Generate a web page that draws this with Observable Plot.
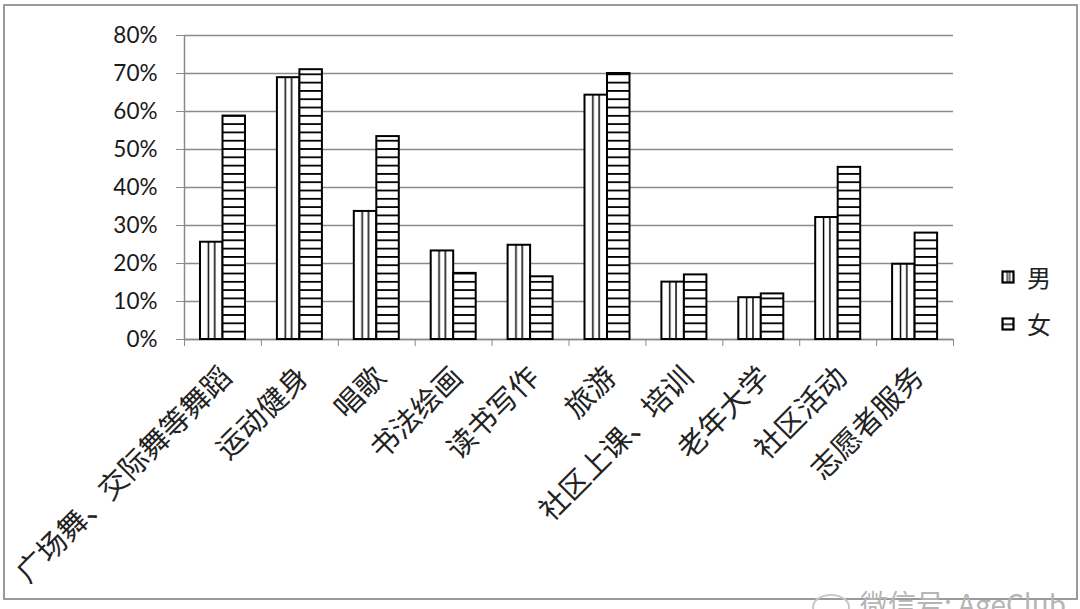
<!DOCTYPE html>
<html>
<head>
<meta charset="utf-8">
<script src="https://cdn.jsdelivr.net/npm/d3@7"></script>
<script src="https://cdn.jsdelivr.net/npm/@observablehq/plot@0.6"></script>
<style>
  html, body { margin: 0; padding: 0; background: #fff; overflow: hidden; }
  #wrap { position: relative; width: 1080px; height: 609px; overflow: hidden; }
  #border { position: absolute; left: 3px; top: 4px; width: 1071px; height: 592px; border: 2px solid #9a9a9a; box-sizing: content-box; pointer-events: none; }
  #legend { position: absolute; left: 1001px; top: 253px; font-family: "Noto Sans CJK SC", sans-serif; font-size: 24px; color: #222; }
  #legend .item { display: flex; align-items: center; height: 47px; }
  #legend svg { margin-right: 12px; }
  #wm { position: absolute; left: 812px; top: 583px; font-family: "Noto Sans CJK SC", sans-serif; font-size: 28px; color: #b5b5b5; white-space: nowrap; }
  #wm .icon { display: inline-block; width: 34px; height: 22px; border: 2px solid #c8c8c8; border-radius: 50%; margin-right: 10px; vertical-align: middle; }
</style>
</head>
<body>
<div id="wrap">
  <div id="chart"></div>
  <div id="border"></div>
  <div id="legend"></div>
  <div id="wm"><span class="icon"></span><span id="wmtext"></span></div>
</div>
<script>
const categories = ["广场舞、交际舞等舞蹈", "运动健身", "唱歌", "书法绘画", "读书写作", "旅游", "社区上课、培训", "老年大学", "社区活动", "志愿者服务"];
const maleValues = [25.6, 68.9, 33.7, 23.3, 24.8, 64.3, 15.1, 11.0, 32.1, 19.8];
const femaleValues = [58.8, 71.0, 53.4, 17.4, 16.5, 70.0, 17.0, 12.0, 45.3, 28.0];
const seriesNames = ["男", "女"];
const yTicks = [0, 10, 20, 30, 40, 50, 60, 70, 80];
const watermark = "微信号: AgeClub";

const W = 1080, H = 609, ML = 184, MR = 127, MT = 35, MB = 270;
const step = (W - ML - MR) / categories.length;

const male = categories.map((c, i) => ({cat: c, value: maleValues[i]}));
const female = categories.map((c, i) => ({cat: c, value: femaleValues[i]}));

const plot = Plot.plot({
  width: W, height: H,
  marginLeft: ML, marginRight: MR, marginTop: MT, marginBottom: MB,
  style: {background: "transparent", fontFamily: "Lato, 'Noto Sans CJK SC', sans-serif"},
  x: {domain: categories, padding: 0, round: false, axis: null, label: null},
  y: {domain: [0, 80], axis: null, label: null},
  marks: [
    Plot.gridY(yTicks, {stroke: "#8a8a8a", strokeOpacity: 1, strokeWidth: 1.5}),
    Plot.axisY(yTicks, {label: null, tickSize: 8, tickPadding: 19, tickFormat: d => d + "%", fontSize: 22.5, stroke: "#8a8a8a", fill: "#1a1a1a", fontFamily: "Lato, sans-serif"}),
    Plot.ruleX([categories[0]], {dx: -step / 2, stroke: "#8a8a8a", strokeWidth: 1.5}),
    Plot.ruleY([0], {stroke: "#8a8a8a", strokeWidth: 1.5}),
    Plot.axisX(categories, {label: null, tickSize: 7, dx: -step / 2, tickFormat: () => "", stroke: "#8a8a8a"}),
    Plot.axisX([categories[categories.length - 1]], {label: null, tickSize: 7, dx: step / 2, tickFormat: () => "", stroke: "#8a8a8a"}),
    Plot.axisX(categories, {label: null, tickSize: 0, tickPadding: 33, dx: 4, tickRotate: -45, fontSize: 29, fill: "#222", fontFamily: "'Noto Sans CJK SC', sans-serif", lineWidth: 100}),
    Plot.barY(male, {x: "cat", y: "value", fill: "url(#pat-male)", stroke: "#000", strokeWidth: 2, insetLeft: 16, insetRight: step - 38.5}),
    Plot.barY(female, {x: "cat", y: "value", fill: "url(#pat-female)", stroke: "#000", strokeWidth: 2, insetLeft: 38.5, insetRight: step - 61})
  ]
});

const svgNS = "http://www.w3.org/2000/svg";
function addPatterns(svg) {
  const defs = document.createElementNS(svgNS, "defs");
  defs.innerHTML = `
    <pattern id="pat-male" patternUnits="objectBoundingBox" patternContentUnits="objectBoundingBox" width="1" height="1">
      <rect x="0" y="0" width="1" height="1" fill="#fff"/>
      <rect x="0.34" y="0" width="0.065" height="1" fill="#000"/>
      <rect x="0.62" y="0" width="0.065" height="1" fill="#000"/>
    </pattern>
    <pattern id="pat-female" patternUnits="userSpaceOnUse" x="0" y="${H - MB}" width="10" height="8.3">
      <rect x="0" y="0" width="10" height="8.3" fill="#fff"/>
      <rect x="0" y="0" width="10" height="1.8" fill="#000"/>
    </pattern>`;
  svg.insertBefore(defs, svg.firstChild);
}
addPatterns(plot);
document.getElementById("chart").appendChild(plot);

// legend
const legend = d3.select("#legend");
const legendPats = ["pat-male-l", "pat-female-l"];
seriesNames.forEach((name, i) => {
  const item = legend.append("div").attr("class", "item");
  const s = item.append("svg").attr("width", 14).attr("height", 14);
  const d = s.append("defs");
  const p = d.append("pattern").attr("id", legendPats[i]).attr("patternUnits", "objectBoundingBox").attr("patternContentUnits", "objectBoundingBox").attr("width", 1).attr("height", 1);
  p.append("rect").attr("width", 1).attr("height", 1).attr("fill", "#fff");
  if (i === 0) {
    p.append("rect").attr("x", 0.38).attr("width", 0.1).attr("height", 1).attr("fill", "#000");
    p.append("rect").attr("x", 0.6).attr("width", 0.1).attr("height", 1).attr("fill", "#000");
  } else {
    p.append("rect").attr("y", 0.45).attr("width", 1).attr("height", 0.14).attr("fill", "#000");
  }
  s.append("rect").attr("x", 1.5).attr("y", 1.5).attr("width", 11).attr("height", 11).attr("fill", `url(#${legendPats[i]})`).attr("stroke", "#000").attr("stroke-width", 2.2);
  item.append("span").text(name);
});

document.getElementById("wmtext").textContent = watermark;
</script>
</body>
</html>
